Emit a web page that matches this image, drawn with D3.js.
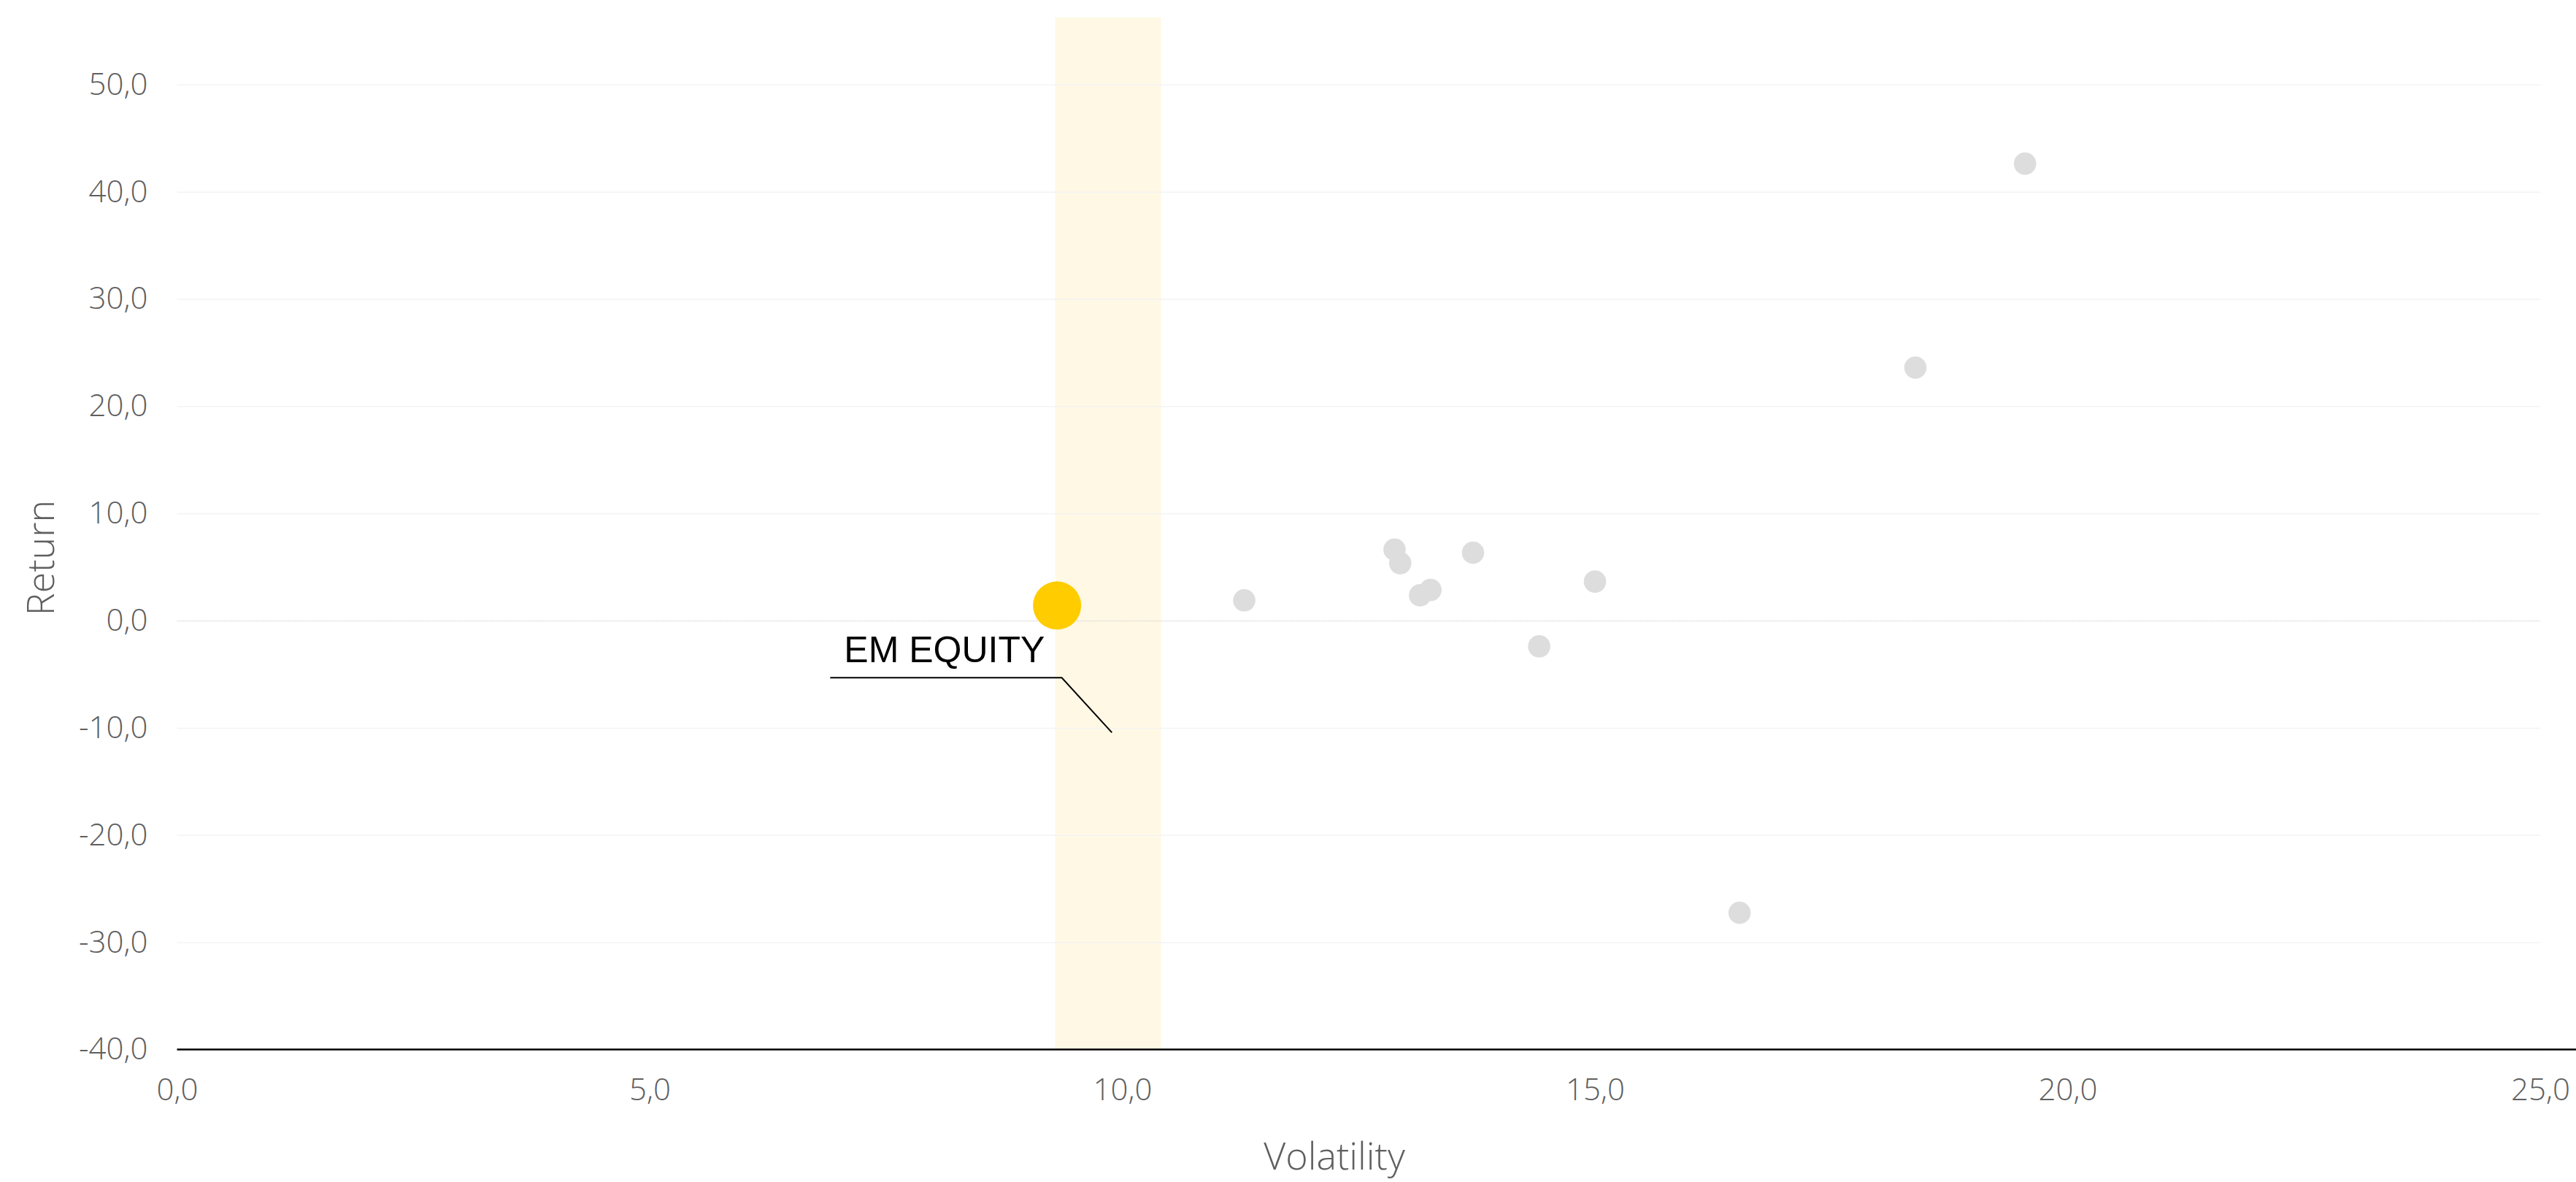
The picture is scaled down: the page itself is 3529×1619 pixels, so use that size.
<!DOCTYPE html>
<html>
<head>
<meta charset="utf-8">
<script src="https://cdn.jsdelivr.net/npm/d3@7"></script>
<style>
  html, body { margin: 0; padding: 0; background: #ffffff; }
  svg { display: block; }
</style>
</head>
<body>
<svg id="chart" width="3529" height="1619"></svg>
<script>
// ---------- data ----------
const peerVolatility = [11.29, 12.88, 12.94, 13.15, 13.26, 13.71, 14.41, 15.00, 16.53, 18.39, 19.55];
const peerReturn     = [1.89, 6.63, 5.36, 2.36, 2.86, 6.34, -2.40, 3.64, -27.25, 23.60, 42.62];

const focusName       = ["EM EQUITY"];
const focusVolatility = [9.31];
const focusReturn     = [1.41];

const bandVolatility = [9.29, 10.41];

const xTicks      = [0, 5, 10, 15, 20, 25];
const xTickLabels = ["0,0", "5,0", "10,0", "15,0", "20,0", "25,0"];
const yTicks      = [-40, -30, -20, -10, 0, 10, 20, 30, 40, 50];
const yTickLabels = ["-40,0", "-30,0", "-20,0", "-10,0", "0,0", "10,0", "20,0", "30,0", "40,0", "50,0"];

const xTitle = "Volatility";
const yTitle = "Return";

// annotation leader (in data units): label start, elbow, end
const leaderVol = [6.91, 9.36, 9.89];
const leaderRet = [-5.33, -5.33, -10.44];

(function () {
// ---------- layout ----------
const W = 3529, H = 1619;
const mLeft = 242.5, mRight = 3480, mTop = 24, mBottom = 1437.5;
const yMax = 56.25;

const svg = d3.select("#chart");
const x = d3.scaleLinear().domain([0, 25]).range([mLeft, mRight]);
const y = d3.scaleLinear().domain([-40, yMax]).range([mBottom, mTop]);

const tickFont = "'Open Sans', Lato, sans-serif";
const tickColor = "#5f5f5f";

// highlight band
svg.append("rect")
  .attr("x", x(bandVolatility[0]))
  .attr("y", y(yMax))
  .attr("width", x(bandVolatility[1]) - x(bandVolatility[0]))
  .attr("height", y(-40) - y(yMax))
  .attr("fill", "#fff8e4");

// y axis with gridlines
const yAxis = svg.append("g")
  .attr("transform", `translate(${mLeft},0)`)
  .call(d3.axisLeft(y)
    .tickValues(yTicks)
    .tickSize(-(mRight - mLeft))
    .tickPadding(40)
    .tickFormat((d, i) => yTickLabels[i]));
yAxis.select(".domain").remove();
yAxis.selectAll(".tick line")
  .attr("stroke", d => d === 0 ? "#d9d9d9" : "#f3f3f3")
  .attr("stroke-width", d => d === 0 ? 1 : 1.5)
  .attr("stroke-dasharray", d => d === 0 ? "3,1" : null);
yAxis.selectAll(".tick text")
  .attr("fill", tickColor)
  .style("font-family", tickFont)
  .style("font-weight", 300)
  .style("font-size", "42px");

// x axis
const xAxis = svg.append("g")
  .attr("transform", `translate(0,${mBottom})`)
  .call(d3.axisBottom(x)
    .tickValues(xTicks)
    .tickSize(0)
    .tickPadding(40)
    .tickFormat((d, i) => xTickLabels[i]));
xAxis.select(".domain").remove();
xAxis.selectAll(".tick text")
  .attr("fill", tickColor)
  .style("font-family", tickFont)
  .style("font-weight", 300)
  .style("font-size", "42px");

// peer points
svg.append("g").selectAll("circle")
  .data(peerVolatility.map((v, i) => ({ v, r: peerReturn[i] })))
  .join("circle")
  .attr("cx", d => x(d.v))
  .attr("cy", d => y(d.r))
  .attr("r", 15.3)
  .attr("fill", "#dddddd");

// axis baseline
svg.append("line")
  .attr("x1", mLeft).attr("x2", W)
  .attr("y1", y(-40)).attr("y2", y(-40))
  .attr("stroke", "#000").attr("stroke-width", 2.5);

// focus point
svg.append("g").selectAll("circle")
  .data(focusVolatility.map((v, i) => ({ v, r: focusReturn[i] })))
  .join("circle")
  .attr("cx", d => x(d.v))
  .attr("cy", d => y(d.r))
  .attr("r", 33)
  .attr("fill", "#ffcc00");

// annotation
svg.append("path")
  .attr("d", d3.line()(leaderVol.map((v, i) => [x(v), y(leaderRet[i])])))
  .attr("fill", "none")
  .attr("stroke", "#000")
  .attr("stroke-width", 2);
svg.append("text")
  .attr("x", x(leaderVol[0]) + 19)
  .attr("y", y(leaderRet[0]) - 21)
  .attr("fill", "#000")
  .style("font-family", "'Liberation Sans', Arial, sans-serif")
  .style("font-size", "50px")
  .text(focusName[0]);

// axis titles
svg.append("text")
  .attr("x", 1828)
  .attr("y", 1602)
  .attr("text-anchor", "middle")
  .attr("fill", tickColor)
  .style("font-family", tickFont)
  .style("font-weight", 300)
  .style("font-size", "52px")
  .text(xTitle);

svg.append("text")
  .attr("transform", "translate(74,764) rotate(-90)")
  .attr("text-anchor", "middle")
  .attr("fill", tickColor)
  .style("font-family", tickFont)
  .style("font-weight", 300)
  .style("font-size", "52px")
  .text(yTitle);
})();
</script>
</body>
</html>
